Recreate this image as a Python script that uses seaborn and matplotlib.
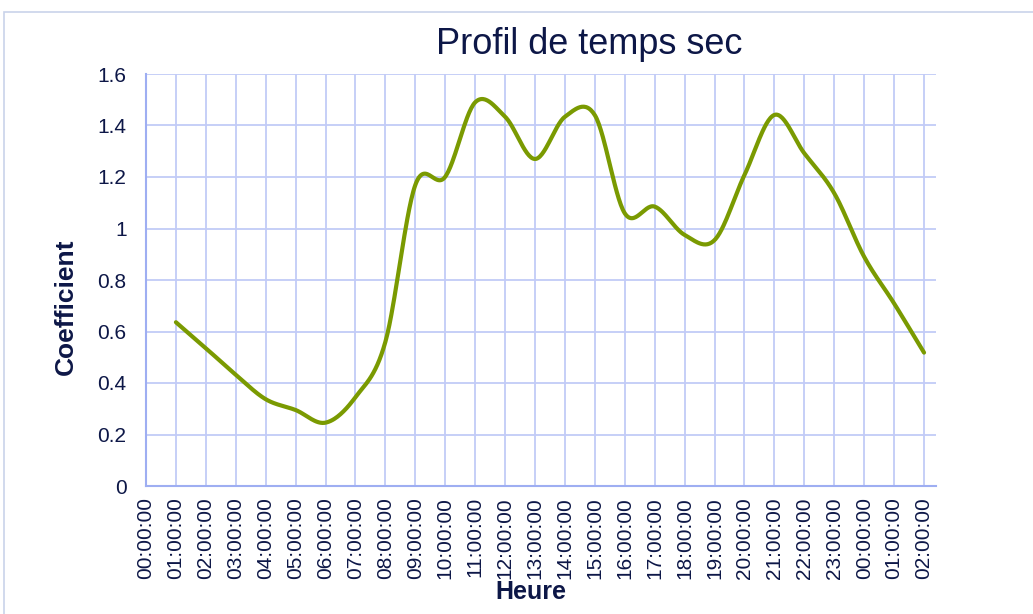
"""
Profil de temps sec - coefficient horaire
"""
import numpy as np
import pandas as pd
import matplotlib
matplotlib.use("Agg")
import matplotlib.pyplot as plt
from matplotlib.patches import Rectangle
import seaborn as sns

# ── Data ──────────────────────────────────────────────────────────────────────
heures = ["00:00:00", "01:00:00", "02:00:00", "03:00:00", "04:00:00", "05:00:00",
          "06:00:00", "07:00:00", "08:00:00", "09:00:00", "10:00:00", "11:00:00",
          "12:00:00", "13:00:00", "14:00:00", "15:00:00", "16:00:00", "17:00:00",
          "18:00:00", "19:00:00", "20:00:00", "21:00:00", "22:00:00", "23:00:00",
          "00:00:00", "01:00:00", "02:00:00"]
# first category (00:00:00) has no value
coefficient = [np.nan, 0.636, 0.535, 0.432, 0.337, 0.295, 0.246, 0.345, 0.56,
               1.169, 1.201, 1.49, 1.434, 1.27, 1.434, 1.44, 1.059, 1.085,
               0.975, 0.955, 1.208, 1.441, 1.292, 1.137, 0.89, 0.709, 0.518]

GREEN = "#7a9a01"
GRID = "#c2cbf7"
AXIS = "#9eaef2"
NAVY = "#0d1747"


def smooth(x, y, n=30):
    """Catmull-Rom curve through the points (like Excel's smoothed line)."""
    x = np.asarray(x, float)
    y = np.asarray(y, float)
    px = np.concatenate([[x[0]], x, [x[-1]]])
    py = np.concatenate([[y[0]], y, [y[-1]]])
    xs, ys = [], []
    t = np.linspace(0, 1, n, endpoint=False)
    for i in range(1, len(px) - 2):
        p0, p1, p2, p3 = (np.array([px[j], py[j]]) for j in (i - 1, i, i + 1, i + 2))
        c1 = p1 + (p2 - p0) / 6
        c2 = p2 - (p3 - p1) / 6
        b = ((1 - t) ** 3)[:, None] * p1 + (3 * (1 - t) ** 2 * t)[:, None] * c1 \
            + (3 * (1 - t) * t ** 2)[:, None] * c2 + (t ** 3)[:, None] * p2
        xs.extend(b[:, 0])
        ys.extend(b[:, 1])
    xs.append(x[-1])
    ys.append(y[-1])
    return np.array(xs), np.array(ys)


df = pd.DataFrame({"pos": np.arange(len(heures)), "coef": coefficient}).dropna()
sx, sy = smooth(df["pos"], df["coef"])
curve = pd.DataFrame({"x": sx, "y": sy})

sns.set_style("white")
plt.rcParams["font.family"] = ["Liberation Sans", "DejaVu Sans"]

fig = plt.figure(figsize=(10.33, 6.14), dpi=100)
ax = fig.add_axes([146 / 1033, 1 - 486 / 614, (936 - 146) / 1033, (486 - 74) / 614])

# chart area border
fig.patches.append(Rectangle((4 / 1033, -0.05), 1.1, 1 - 12 / 614 + 0.05,
                             transform=fig.transFigure, fill=False,
                             edgecolor="#c9d3ea", linewidth=1.2, zorder=0))

sns.lineplot(data=curve, x="x", y="y", ax=ax, color=GREEN, linewidth=3,
             sort=False, estimator=None, zorder=3)

ax.set_xlim(0, 26.4)
ax.set_ylim(0, 1.6)
ax.set_xticks(range(len(heures)))
ax.set_xticklabels(heures, rotation=90, fontsize=15, color=NAVY)
ax.set_yticks(np.arange(0, 1.61, 0.2))
ax.set_yticklabels(["0", "0.2", "0.4", "0.6", "0.8", "1", "1.2", "1.4", "1.6"],
                   fontsize=15, color=NAVY)
ax.tick_params(axis="y", length=0, pad=14)
ax.tick_params(axis="x", length=0, pad=8)

ax.grid(True, color=GRID, linewidth=1.3)
ax.set_axisbelow(True)
for side in ["top", "right"]:
    ax.spines[side].set_visible(False)
for side in ["left", "bottom"]:
    ax.spines[side].set_color(AXIS)
    ax.spines[side].set_linewidth(1.5)

ax.set_xlabel("")
ax.set_ylabel("")
fig.text(66 / 1033, 1 - 307 / 614, "Coefficient", rotation=90, ha="center",
         va="center", fontsize=19, fontweight="bold", color=NAVY)
fig.text(531 / 1033, 1 - 592 / 614, "Heure", ha="center", va="center",
         fontsize=18, fontweight="bold", color=NAVY)
fig.text(589 / 1033, 1 - 45 / 614, "Profil de temps sec", ha="center", va="center",
         fontsize=26, color=NAVY)

plt.savefig("out.png", dpi=100)
plt.close()
